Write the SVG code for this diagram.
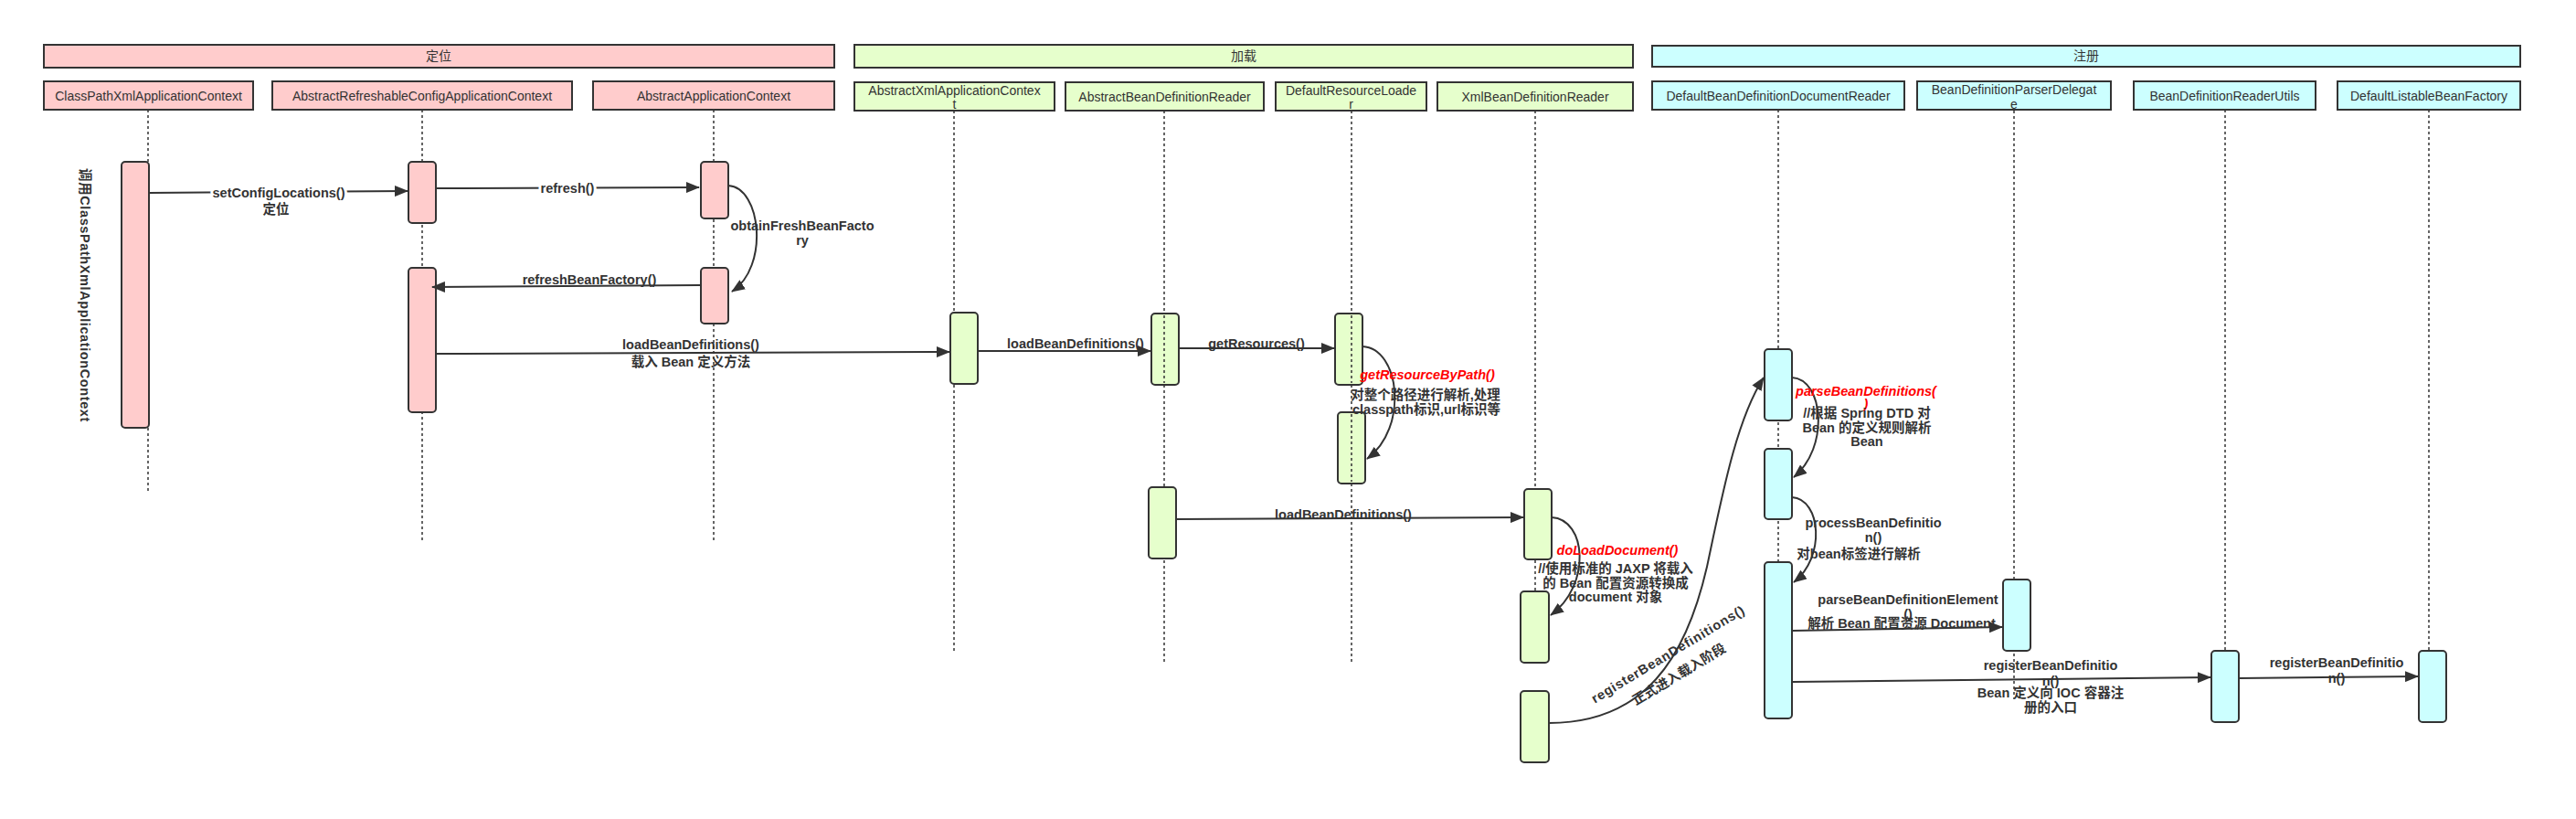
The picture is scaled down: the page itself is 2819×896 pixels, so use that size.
<svg xmlns="http://www.w3.org/2000/svg" width="2819" height="896" viewBox="0 0 2819 896">
<style>
text{font-family:"Liberation Sans","Noto Sans CJK SC",sans-serif;fill:#333;text-anchor:middle}
.hd{font-size:14px}
.lb{font-size:14.5px;font-weight:bold}
.red{font-size:14.5px;font-weight:bold;font-style:italic;fill:#f00}
.halo{paint-order:stroke;stroke:#fff;stroke-width:6px;stroke-linejoin:round}
.box{stroke:#333;stroke-width:2}
.pk{fill:#ffcccc}.gr{fill:#e6ffcc}.cy{fill:#ccffff}
.life{stroke:#333;stroke-width:1.5;stroke-dasharray:3 3;fill:none}
.msg{stroke:#333;stroke-width:2;fill:none;marker-end:url(#arr)}
</style>
<defs>
<marker id="arr" markerUnits="userSpaceOnUse" markerWidth="16" markerHeight="12" refX="14" refY="6" orient="auto">
<path d="M0,0 L15,6 L0,12 z" fill="#333"/>
</marker>
</defs>
<rect width="2819" height="896" fill="#fff"/>

<g id="banners">
<rect class="box pk" x="48" y="49" width="865" height="25"/>
<text class="hd" x="480" y="66">定位</text>
<rect class="box gr" x="935" y="49" width="852" height="25"/>
<text class="hd" x="1361" y="66">加载</text>
<rect class="box cy" x="1808" y="50" width="950" height="23"/>
<text class="hd" x="2283" y="66">注册</text>
</g>

<g id="lifelines">
<line class="life" x1="162" y1="120" x2="162" y2="539"/>
<line class="life" x1="462" y1="120" x2="462" y2="591"/>
<line class="life" x1="781" y1="120" x2="781" y2="591"/>
<line class="life" x1="1044" y1="121" x2="1044" y2="713"/>
<line class="life" x1="1274" y1="121" x2="1274" y2="724"/>
<line class="life" x1="1479" y1="121" x2="1479" y2="724"/>
<line class="life" x1="1680" y1="121" x2="1680" y2="725"/>
<line class="life" x1="1946" y1="120" x2="1946" y2="615"/>
<line class="life" x1="2204" y1="121" x2="2204" y2="765"/>
<line class="life" x1="2435" y1="120" x2="2435" y2="712"/>
<line class="life" x1="2658" y1="120" x2="2658" y2="712"/>
</g>

<g id="n-ClassPathXmlApplicationContext">
<rect class="box pk" x="48" y="89" width="229" height="31"/>
<text class="hd" x="162.5" y="109.5">ClassPathXmlApplicationContext</text>
<rect class="box pk" x="133" y="177" width="30" height="291" rx="4"/>
<text class="lb" transform="translate(88,323) rotate(90)" letter-spacing="0.6">调用ClassPathXmlApplicationContext</text>
</g>
<g id="n-AbstractRefreshableConfigApplicationContext">
<rect class="box pk" x="298" y="89" width="328" height="31"/>
<text class="hd" x="462" y="109.5">AbstractRefreshableConfigApplicationContext</text>
<rect class="box pk" x="447" y="177" width="30" height="67" rx="4"/>
<rect class="box pk" x="447" y="293" width="30" height="158" rx="4"/>
</g>
<g id="n-AbstractApplicationContext">
<rect class="box pk" x="649" y="89" width="264" height="31"/>
<text class="hd" x="781" y="109.5">AbstractApplicationContext</text>
<rect class="box pk" x="767" y="177" width="30" height="62" rx="4"/>
<rect class="box pk" x="767" y="293" width="30" height="61" rx="4"/>
</g>
<g id="n-AbstractXmlApplicationContext">
<rect class="box gr" x="935" y="90" width="219" height="31"/>
<text class="hd" x="1044.5" y="104">AbstractXmlApplicationContex</text>
<text class="hd" x="1044.5" y="119">t</text>
<rect class="box gr" x="1040" y="342" width="30" height="78" rx="4"/>
</g>
<g id="n-AbstractBeanDefinitionReader">
<rect class="box gr" x="1166" y="90" width="217" height="31"/>
<text class="hd" x="1274.5" y="110.5">AbstractBeanDefinitionReader</text>
<rect class="box gr" x="1260" y="343" width="30" height="78" rx="4"/>
<rect class="box gr" x="1257" y="533" width="30" height="78" rx="4"/>
</g>
<g id="n-DefaultResourceLoader">
<rect class="box gr" x="1396" y="90" width="165" height="31"/>
<text class="hd" x="1478.5" y="104">DefaultResourceLoade</text>
<text class="hd" x="1478.5" y="119">r</text>
<rect class="box gr" x="1461" y="343" width="30" height="78" rx="4"/>
<rect class="box gr" x="1464" y="451" width="30" height="78" rx="4"/>
</g>
<g id="n-XmlBeanDefinitionReader">
<rect class="box gr" x="1573" y="90" width="214" height="31"/>
<text class="hd" x="1680" y="110.5">XmlBeanDefinitionReader</text>
<rect class="box gr" x="1668" y="535" width="30" height="77" rx="4"/>
<rect class="box gr" x="1664" y="647" width="31" height="78" rx="4"/>
<rect class="box gr" x="1664" y="756" width="31" height="78" rx="4"/>
</g>
<g id="n-DefaultBeanDefinitionDocumentReader">
<rect class="box cy" x="1808" y="89" width="276" height="31"/>
<text class="hd" x="1946" y="109.5">DefaultBeanDefinitionDocumentReader</text>
<rect class="box cy" x="1931" y="382" width="30" height="78" rx="4"/>
<rect class="box cy" x="1931" y="491" width="30" height="77" rx="4"/>
<rect class="box cy" x="1931" y="615" width="30" height="171" rx="4"/>
</g>
<g id="n-BeanDefinitionParserDelegate">
<rect class="box cy" x="2098" y="89" width="212" height="31"/>
<text class="hd" x="2204" y="103">BeanDefinitionParserDelegat</text>
<text class="hd" x="2204" y="119">e</text>
<rect class="box cy" x="2192" y="634" width="30" height="78" rx="4"/>
</g>
<g id="n-BeanDefinitionReaderUtils">
<rect class="box cy" x="2335" y="89" width="199" height="31"/>
<text class="hd" x="2434.5" y="109.5">BeanDefinitionReaderUtils</text>
<rect class="box cy" x="2420" y="712" width="30" height="78" rx="4"/>
</g>
<g id="n-DefaultListableBeanFactory">
<rect class="box cy" x="2558" y="89" width="200" height="31"/>
<text class="hd" x="2658" y="109.5">DefaultListableBeanFactory</text>
<rect class="box cy" x="2647" y="712" width="30" height="78" rx="4"/>
</g>

<g id="lifeline-overlay">
<line class="life" x1="1274" y1="345" x2="1274" y2="419"/>
<line class="life" x1="1479" y1="345" x2="1479" y2="419"/>
<line class="life" x1="1479" y1="453" x2="1479" y2="527"/>
</g>

<g id="connectors">
<path class="msg" d="M163,211 L446,209"/>
<path class="msg" d="M477,206 L765,205"/>
<path class="msg" d="M797,203 C833,205 842,292 801,319"/>
<path class="msg" d="M767,312 L473,314"/>
<path class="msg" d="M477,387 L1039,385"/>
<path class="msg" d="M1070,384 L1259,384"/>
<path class="msg" d="M1290,381 L1460,381"/>
<path class="msg" d="M1491,379 C1532,381 1542,468 1496,502"/>
<path class="msg" d="M1287,568 L1667,566"/>
<path class="msg" d="M1698,566 C1736,568 1742,640 1697,673"/>
<path class="msg" d="M1695,791 C1800,791 1845,720 1868,620 C1885,540 1900,460 1930,413"/>
<path class="msg" d="M1961,413 C1996,415 2002,490 1963,522"/>
<path class="msg" d="M1961,544 C1993,546 1998,610 1963,637"/>
<path class="msg" d="M1961,690 L2191,686"/>
<path class="msg" d="M1961,746 L2419,741"/>
<path class="msg" d="M2450,742 L2646,740"/>
</g>

<g id="labels">
<text class="lb halo" x="305" y="216">setConfigLocations()</text>
<text class="lb" x="302" y="234">定位</text>
<text class="lb halo" x="621" y="211">refresh()</text>
<text class="lb" x="878" y="252">obtainFreshBeanFacto</text>
<text class="lb" x="878" y="268">ry</text>
<text class="lb" x="645" y="311">refreshBeanFactory()</text>
<text class="lb" x="756" y="382">loadBeanDefinitions()</text>
<text class="lb" x="756" y="401">载入 Bean 定义方法</text>
<text class="lb" x="1177" y="381">loadBeanDefinitions()</text>
<text class="lb" x="1375" y="381">getResources()</text>
<text class="red" x="1562" y="415">getResourceByPath()</text>
<text class="lb" x="1560" y="437">对整个路径进行解析,处理</text>
<text class="lb" x="1561" y="453">classpath标识,url标识等</text>
<text class="lb" x="1470" y="568">loadBeanDefinitions()</text>
<text class="red" x="1770" y="607">doLoadDocument()</text>
<text class="lb" x="1768" y="627">//使用标准的 JAXP 将载入</text>
<text class="lb" x="1768" y="643">的 Bean 配置资源转换成</text>
<text class="lb" x="1768" y="658">document 对象</text>
<text class="lb" transform="translate(1828,720) rotate(-31)" letter-spacing="0.8">registerBeanDefinitions()</text>
<text class="lb" transform="translate(1840,742) rotate(-31)">正式进入载入阶段</text>
<text class="red" x="2042" y="433">parseBeanDefinitions(</text>
<text class="red" x="2042" y="447">)</text>
<text class="lb" x="2043" y="457">//根据 Spring DTD 对</text>
<text class="lb" x="2043" y="473">Bean 的定义规则解析</text>
<text class="lb" x="2043" y="488">Bean</text>
<text class="lb" x="2050" y="577">processBeanDefinitio</text>
<text class="lb" x="2050" y="593">n()</text>
<text class="lb" x="2034" y="611">对bean标签进行解析</text>
<text class="lb" x="2088" y="661">parseBeanDefinitionElement</text>
<text class="lb" x="2088" y="677">()</text>
<text class="lb" x="2081" y="687">解析 Bean 配置资源 Document</text>
<text class="lb" x="2244" y="733">registerBeanDefinitio</text>
<text class="lb" x="2244" y="750">n()</text>
<text class="lb" x="2244" y="763">Bean 定义向 IOC 容器注</text>
<text class="lb" x="2244" y="779">册的入口</text>
<text class="lb" x="2557" y="730">registerBeanDefinitio</text>
<text class="lb" x="2557" y="747">n()</text>
</g>
</svg>
